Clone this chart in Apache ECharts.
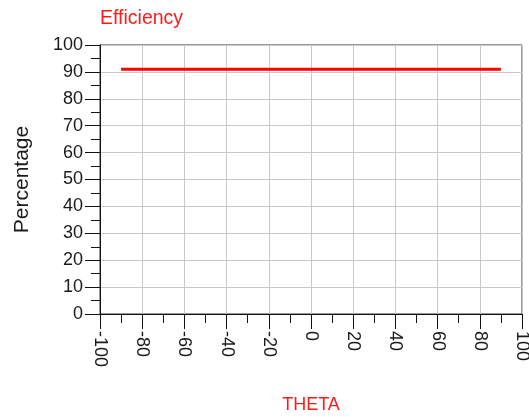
<!DOCTYPE html>
<html>
<head>
<meta charset="utf-8">
<script src="https://cdn.jsdelivr.net/npm/echarts@6/dist/echarts.min.js"></script>
<style>
    html, body { margin: 0; padding: 0; background: #fff; }
    #chart { width: 529px; height: 417px; }
</style>
</head>
<body>
<div id="chart"></div>
<script>
// values
const theta = [-90, -60, -30, 0, 30, 60, 90]
const efficiency = [91, 91, 91, 91, 91, 91, 91]

const xTicks = { min: -100, max: 100, step: 20 }
const yTicks = { min: 0, max: 100, step: 10 }

const font = '"Liberation Sans", Arial, sans-serif'
const labelColor = '#1a1a1a'

const chart = echarts.init(document.getElementById('chart'))

chart.setOption({
    animation: false,
    title: {
        text: 'Efficiency',
        left: 95,
        top: 4,
        textStyle: { color: '#ff1a1a', fontSize: 19.5, fontWeight: 'normal', fontFamily: font }
    },
    grid: {
        left: 100,
        right: 7,
        top: 45,
        bottom: 103,
        show: true,
        borderColor: '#333',
        borderWidth: 1,
        containLabel: false,
        outerBoundsMode: 'none'
    },
    xAxis: {
        type: 'value',
        min: xTicks.min,
        max: xTicks.max,
        interval: xTicks.step,
        name: 'THETA',
        nameLocation: 'middle',
        nameGap: 82,
        nameTextStyle: { color: '#ff1a1a', fontSize: 18, fontFamily: font },
        axisLine: { show: true, onZero: false, lineStyle: { color: '#111', width: 1 } },
        axisTick: { show: true, inside: false, length: 15, lineStyle: { color: '#111' } },
        minorTick: { show: true, splitNumber: 2, length: 9, lineStyle: { color: '#111' } },
        axisLabel: {
            rotate: -90,
            margin: 17,
            color: labelColor,
            fontSize: 18,
            fontFamily: font
        },
        splitLine: { show: true, lineStyle: { color: '#c8c8c8', width: 1 } }
    },
    yAxis: {
        type: 'value',
        min: yTicks.min,
        max: yTicks.max,
        interval: yTicks.step,
        name: 'Percentage',
        nameLocation: 'middle',
        nameGap: 67,
        nameRotate: 90,
        nameTextStyle: { color: labelColor, fontSize: 21, fontFamily: font },
        axisLine: { show: true, onZero: false, lineStyle: { color: '#111', width: 1 } },
        axisTick: { show: true, inside: false, length: 15, lineStyle: { color: '#111' } },
        minorTick: { show: true, splitNumber: 2, length: 9, lineStyle: { color: '#111' } },
        axisLabel: {
            margin: 17,
            color: labelColor,
            fontSize: 18,
            fontFamily: font
        },
        splitLine: { show: true, lineStyle: { color: '#c8c8c8', width: 1 } }
    },
    series: [
        {
            name: 'Efficiency',
            type: 'line',
            data: theta.map((t, i) => [t, efficiency[i]]),
            showSymbol: false,
            lineStyle: { color: '#ff0000', width: 3 }
        }
    ]
})
</script>
</body>
</html>
